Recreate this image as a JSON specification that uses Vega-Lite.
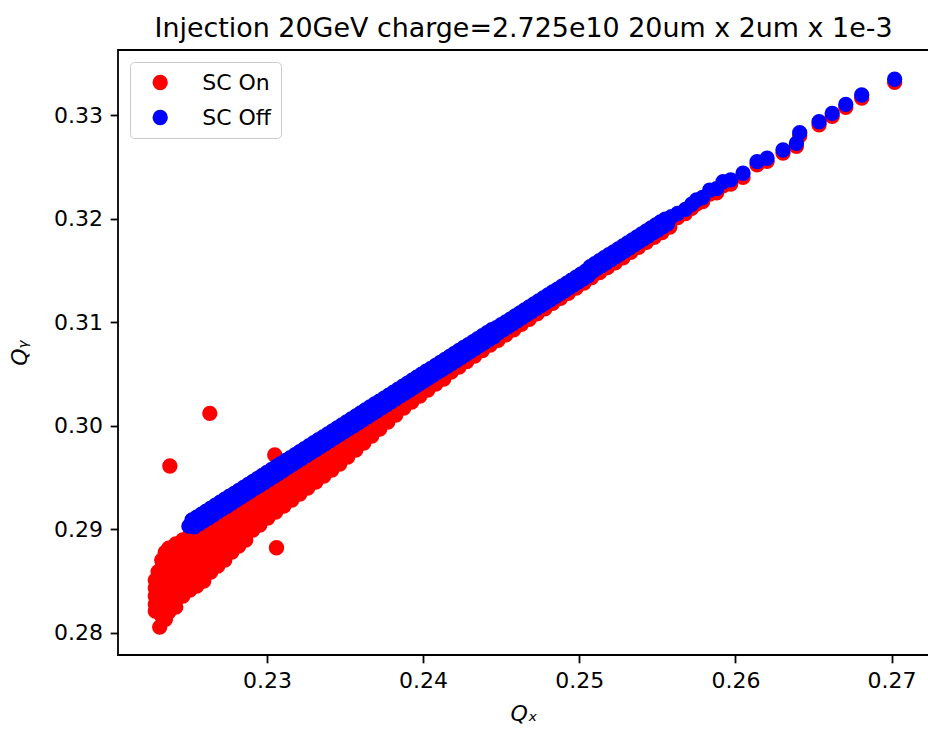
{
"$schema":"https://vega.github.io/schema/vega-lite/v6.json",
"width":811,"height":605,
"autosize":{"type":"none"},
"padding":{"left":118,"top":50,"right":0,"bottom":74},
"background":"white",
"title":{"text":"Injection 20GeV charge=2.725e10 20um x 2um x 1e-3","font":"DejaVu Sans","fontSize":26.9,"fontWeight":"normal","color":"black","offset":13,"baseline":"bottom","anchor":"middle","dy":33},
"config":{
"view":{"stroke":"black","strokeWidth":1.8},
"axis":{"labelFont":"DejaVu Sans","labelFontSize":22,"labelColor":"black","tickColor":"black","tickWidth":1.8,"tickSize":7.8,"labelPadding":7.8,"domain":false,"grid":false,"labelFlush":false,"labelOverlap":false,"titleFont":"DejaVu Sans","titleFontSize":22,"titleFontWeight":"normal","titleFontStyle":"italic","titleColor":"black"},
"axisX":{"titlePadding":12},
"axisY":{"titlePadding":22}
},
"data":{"values":[
{"run":"SC On","qx":0.22634,"qy":0.30120},
{"run":"SC On","qx":0.22378,"qy":0.29611},
{"run":"SC On","qx":0.23050,"qy":0.29717},
{"run":"SC On","qx":0.23061,"qy":0.28821},
{"run":"SC On","qx":0.22313,"qy":0.28055},
{"run":"SC On","qx":0.22303,"qy":0.28590},
{"run":"SC On","qx":0.22348,"qy":0.28775},
{"run":"SC On","qx":0.22350,"qy":0.28130},
{"run":"SC On","qx":0.22285,"qy":0.28509},{"run":"SC On","qx":0.22285,"qy":0.28432},{"run":"SC On","qx":0.22285,"qy":0.28355},{"run":"SC On","qx":0.22285,"qy":0.28277},{"run":"SC On","qx":0.22285,"qy":0.28210},
{"run":"SC On","qx":0.22326,"qy":0.28702},{"run":"SC On","qx":0.22326,"qy":0.28625},{"run":"SC On","qx":0.22326,"qy":0.28548},{"run":"SC On","qx":0.22326,"qy":0.28470},{"run":"SC On","qx":0.22326,"qy":0.28393},{"run":"SC On","qx":0.22326,"qy":0.28316},{"run":"SC On","qx":0.22326,"qy":0.28239},{"run":"SC On","qx":0.22326,"qy":0.28161},
{"run":"SC On","qx":0.22371,"qy":0.28818},{"run":"SC On","qx":0.22371,"qy":0.28741},{"run":"SC On","qx":0.22371,"qy":0.28664},{"run":"SC On","qx":0.22371,"qy":0.28586},{"run":"SC On","qx":0.22371,"qy":0.28509},{"run":"SC On","qx":0.22371,"qy":0.28432},{"run":"SC On","qx":0.22371,"qy":0.28355},{"run":"SC On","qx":0.22371,"qy":0.28277},{"run":"SC On","qx":0.22371,"qy":0.28200},
{"run":"SC On","qx":0.22416,"qy":0.28857},{"run":"SC On","qx":0.22416,"qy":0.28779},{"run":"SC On","qx":0.22416,"qy":0.28702},{"run":"SC On","qx":0.22416,"qy":0.28625},{"run":"SC On","qx":0.22416,"qy":0.28548},{"run":"SC On","qx":0.22416,"qy":0.28470},{"run":"SC On","qx":0.22416,"qy":0.28393},{"run":"SC On","qx":0.22416,"qy":0.28316},{"run":"SC On","qx":0.22416,"qy":0.28248},
{"run":"SC On","qx":0.22461,"qy":0.28896},{"run":"SC On","qx":0.22461,"qy":0.28818},{"run":"SC On","qx":0.22461,"qy":0.28741},{"run":"SC On","qx":0.22461,"qy":0.28664},{"run":"SC On","qx":0.22461,"qy":0.28586},{"run":"SC On","qx":0.22461,"qy":0.28509},{"run":"SC On","qx":0.22461,"qy":0.28432},{"run":"SC On","qx":0.22461,"qy":0.28355},
{"run":"SC On","qx":0.22506,"qy":0.28944},{"run":"SC On","qx":0.22506,"qy":0.28867},{"run":"SC On","qx":0.22506,"qy":0.28789},{"run":"SC On","qx":0.22506,"qy":0.28712},{"run":"SC On","qx":0.22506,"qy":0.28635},{"run":"SC On","qx":0.22506,"qy":0.28557},{"run":"SC On","qx":0.22506,"qy":0.28480},{"run":"SC On","qx":0.22506,"qy":0.28413},
{"run":"SC On","qx":0.22550,"qy":0.28973},{"run":"SC On","qx":0.22550,"qy":0.28896},{"run":"SC On","qx":0.22550,"qy":0.28818},{"run":"SC On","qx":0.22550,"qy":0.28741},{"run":"SC On","qx":0.22550,"qy":0.28664},{"run":"SC On","qx":0.22550,"qy":0.28586},{"run":"SC On","qx":0.22550,"qy":0.28509},{"run":"SC On","qx":0.22550,"qy":0.28451},
{"run":"SC On","qx":0.22595,"qy":0.29012},{"run":"SC On","qx":0.22595,"qy":0.28934},{"run":"SC On","qx":0.22595,"qy":0.28857},{"run":"SC On","qx":0.22595,"qy":0.28779},{"run":"SC On","qx":0.22595,"qy":0.28702},{"run":"SC On","qx":0.22595,"qy":0.28625},{"run":"SC On","qx":0.22595,"qy":0.28548},{"run":"SC On","qx":0.22595,"qy":0.28500},
{"run":"SC On","qx":0.22640,"qy":0.29065},{"run":"SC On","qx":0.22640,"qy":0.28973},{"run":"SC On","qx":0.22640,"qy":0.28896},{"run":"SC On","qx":0.22640,"qy":0.28818},{"run":"SC On","qx":0.22640,"qy":0.28741},{"run":"SC On","qx":0.22640,"qy":0.28664},{"run":"SC On","qx":0.22640,"qy":0.28586},
{"run":"SC On","qx":0.22685,"qy":0.29104},{"run":"SC On","qx":0.22685,"qy":0.29012},{"run":"SC On","qx":0.22685,"qy":0.28934},{"run":"SC On","qx":0.22685,"qy":0.28857},{"run":"SC On","qx":0.22685,"qy":0.28779},{"run":"SC On","qx":0.22685,"qy":0.28702},{"run":"SC On","qx":0.22685,"qy":0.28644},
{"run":"SC On","qx":0.22730,"qy":0.29143},{"run":"SC On","qx":0.22730,"qy":0.29050},{"run":"SC On","qx":0.22730,"qy":0.28973},{"run":"SC On","qx":0.22730,"qy":0.28896},{"run":"SC On","qx":0.22730,"qy":0.28818},{"run":"SC On","qx":0.22730,"qy":0.28760},{"run":"SC On","qx":0.22730,"qy":0.28702},
{"run":"SC On","qx":0.22775,"qy":0.29181},{"run":"SC On","qx":0.22775,"qy":0.29089},{"run":"SC On","qx":0.22775,"qy":0.29012},{"run":"SC On","qx":0.22775,"qy":0.28934},{"run":"SC On","qx":0.22775,"qy":0.28857},{"run":"SC On","qx":0.22775,"qy":0.28779},
{"run":"SC On","qx":0.22819,"qy":0.29220},{"run":"SC On","qx":0.22819,"qy":0.29128},{"run":"SC On","qx":0.22819,"qy":0.29050},{"run":"SC On","qx":0.22819,"qy":0.28973},{"run":"SC On","qx":0.22819,"qy":0.28896},{"run":"SC On","qx":0.22819,"qy":0.28837},
{"run":"SC On","qx":0.22864,"qy":0.29268},{"run":"SC On","qx":0.22864,"qy":0.29176},{"run":"SC On","qx":0.22864,"qy":0.29099},{"run":"SC On","qx":0.22864,"qy":0.29021},{"run":"SC On","qx":0.22864,"qy":0.28954},{"run":"SC On","qx":0.22864,"qy":0.28896},
{"run":"SC On","qx":0.22909,"qy":0.29316},{"run":"SC On","qx":0.22909,"qy":0.29224},{"run":"SC On","qx":0.22909,"qy":0.29147},{"run":"SC On","qx":0.22909,"qy":0.29070},{"run":"SC On","qx":0.22909,"qy":0.28992},
{"run":"SC On","qx":0.22954,"qy":0.29355},{"run":"SC On","qx":0.22954,"qy":0.29263},{"run":"SC On","qx":0.22954,"qy":0.29186},{"run":"SC On","qx":0.22954,"qy":0.29108},{"run":"SC On","qx":0.22954,"qy":0.29041},
{"run":"SC On","qx":0.23005,"qy":0.29399},{"run":"SC On","qx":0.23005,"qy":0.29282},{"run":"SC On","qx":0.23005,"qy":0.29195},{"run":"SC On","qx":0.23005,"qy":0.29108},
{"run":"SC On","qx":0.23056,"qy":0.29447},{"run":"SC On","qx":0.23056,"qy":0.29340},{"run":"SC On","qx":0.23056,"qy":0.29253},{"run":"SC On","qx":0.23056,"qy":0.29166},
{"run":"SC On","qx":0.23108,"qy":0.29495},{"run":"SC On","qx":0.23108,"qy":0.29388},{"run":"SC On","qx":0.23108,"qy":0.29301},{"run":"SC On","qx":0.23108,"qy":0.29224},
{"run":"SC On","qx":0.23159,"qy":0.29544},{"run":"SC On","qx":0.23159,"qy":0.29437},{"run":"SC On","qx":0.23159,"qy":0.29359},{"run":"SC On","qx":0.23159,"qy":0.29282},
{"run":"SC On","qx":0.23210,"qy":0.29592},{"run":"SC On","qx":0.23210,"qy":0.29495},{"run":"SC On","qx":0.23210,"qy":0.29417},{"run":"SC On","qx":0.23210,"qy":0.29340},
{"run":"SC On","qx":0.23261,"qy":0.29640},{"run":"SC On","qx":0.23261,"qy":0.29543},{"run":"SC On","qx":0.23261,"qy":0.29466},{"run":"SC On","qx":0.23261,"qy":0.29398},
{"run":"SC On","qx":0.23313,"qy":0.29689},{"run":"SC On","qx":0.23313,"qy":0.29591},{"run":"SC On","qx":0.23313,"qy":0.29514},{"run":"SC On","qx":0.23313,"qy":0.29456},
{"run":"SC On","qx":0.23364,"qy":0.29737},{"run":"SC On","qx":0.23364,"qy":0.29649},{"run":"SC On","qx":0.23364,"qy":0.29572},{"run":"SC On","qx":0.23364,"qy":0.29514},
{"run":"SC On","qx":0.23415,"qy":0.29785},{"run":"SC On","qx":0.23415,"qy":0.29698},{"run":"SC On","qx":0.23415,"qy":0.29630},{"run":"SC On","qx":0.23415,"qy":0.29572},
{"run":"SC On","qx":0.23466,"qy":0.29834},{"run":"SC On","qx":0.23466,"qy":0.29746},{"run":"SC On","qx":0.23466,"qy":0.29688},{"run":"SC On","qx":0.23466,"qy":0.29630},
{"run":"SC On","qx":0.23517,"qy":0.29882},{"run":"SC On","qx":0.23517,"qy":0.29785},{"run":"SC On","qx":0.23517,"qy":0.29698},
{"run":"SC On","qx":0.23569,"qy":0.29930},{"run":"SC On","qx":0.23569,"qy":0.29833},{"run":"SC On","qx":0.23569,"qy":0.29765},
{"run":"SC On","qx":0.23620,"qy":0.29979},{"run":"SC On","qx":0.23620,"qy":0.29891},{"run":"SC On","qx":0.23620,"qy":0.29833},
{"run":"SC On","qx":0.23671,"qy":0.30037},{"run":"SC On","qx":0.23671,"qy":0.29959},{"run":"SC On","qx":0.23671,"qy":0.29901},
{"run":"SC On","qx":0.23722,"qy":0.30085},{"run":"SC On","qx":0.23722,"qy":0.30017},{"run":"SC On","qx":0.23722,"qy":0.29968},
{"run":"SC On","qx":0.23774,"qy":0.30133},{"run":"SC On","qx":0.23774,"qy":0.30074},{"run":"SC On","qx":0.23774,"qy":0.30036},
{"run":"SC On","qx":0.23825,"qy":0.30181},{"run":"SC On","qx":0.23825,"qy":0.30103},
{"run":"SC On","qx":0.23876,"qy":0.30229},{"run":"SC On","qx":0.23876,"qy":0.30171},
{"run":"SC On","qx":0.23927,"qy":0.30278},{"run":"SC On","qx":0.23927,"qy":0.30229},
{"run":"SC On","qx":0.23979,"qy":0.30326},{"run":"SC On","qx":0.23979,"qy":0.30287},
{"run":"SC On","qx":0.24030,"qy":0.30345},
{"run":"SC On","qx":0.24081,"qy":0.30403},
{"run":"SC On","qx":0.24132,"qy":0.30451},
{"run":"SC On","qx":0.2418,"qy":0.30519},{"run":"SC On","qx":0.2423,"qy":0.30567},{"run":"SC On","qx":0.2428,"qy":0.30620},{"run":"SC On","qx":0.2433,"qy":0.30673},{"run":"SC On","qx":0.2438,"qy":0.30726},{"run":"SC On","qx":0.2443,"qy":0.30779},{"run":"SC On","qx":0.2448,"qy":0.30826},{"run":"SC On","qx":0.2453,"qy":0.30879},{"run":"SC On","qx":0.2458,"qy":0.30927},{"run":"SC On","qx":0.2463,"qy":0.30980},{"run":"SC On","qx":0.2468,"qy":0.31028},{"run":"SC On","qx":0.2473,"qy":0.31081},{"run":"SC On","qx":0.2478,"qy":0.31129},{"run":"SC On","qx":0.2483,"qy":0.31182},{"run":"SC On","qx":0.2488,"qy":0.31230},{"run":"SC On","qx":0.2493,"qy":0.31278},{"run":"SC On","qx":0.2498,"qy":0.31330},{"run":"SC On","qx":0.2503,"qy":0.31378},{"run":"SC On","qx":0.2508,"qy":0.31431},{"run":"SC On","qx":0.2513,"qy":0.31479},{"run":"SC On","qx":0.2518,"qy":0.31527},{"run":"SC On","qx":0.2523,"qy":0.31575},{"run":"SC On","qx":0.2528,"qy":0.31623},{"run":"SC On","qx":0.2533,"qy":0.31676},{"run":"SC On","qx":0.2538,"qy":0.31724},{"run":"SC On","qx":0.2543,"qy":0.31772},{"run":"SC On","qx":0.2548,"qy":0.31819},{"run":"SC On","qx":0.2553,"qy":0.31867},{"run":"SC On","qx":0.2558,"qy":0.31920},
{"run":"SC On","qx":0.2563,"qy":0.32010},{"run":"SC On","qx":0.2568,"qy":0.32050},{"run":"SC On","qx":0.2572,"qy":0.32100},{"run":"SC On","qx":0.25751,"qy":0.32141},{"run":"SC On","qx":0.2579,"qy":0.32165},{"run":"SC On","qx":0.25836,"qy":0.32237},{"run":"SC On","qx":0.2588,"qy":0.32250},{"run":"SC On","qx":0.25921,"qy":0.32317},{"run":"SC On","qx":0.2597,"qy":0.32335},{"run":"SC On","qx":0.26049,"qy":0.32399},
{"run":"SC On","qx":0.26139,"qy":0.32521},{"run":"SC On","qx":0.26203,"qy":0.32554},{"run":"SC On","qx":0.26305,"qy":0.32634},{"run":"SC On","qx":0.26391,"qy":0.32699},{"run":"SC On","qx":0.26412,"qy":0.32801},{"run":"SC On","qx":0.26536,"qy":0.32907},{"run":"SC On","qx":0.26620,"qy":0.32988},{"run":"SC On","qx":0.26707,"qy":0.33075},{"run":"SC On","qx":0.26809,"qy":0.33165},{"run":"SC On","qx":0.27020,"qy":0.33317},
{"run":"SC Off","qx":0.2250,"qy":0.29030},
{"run":"SC Off","qx":0.2252,"qy":0.29089},{"run":"SC Off","qx":0.22535,"qy":0.29023},
{"run":"SC Off","qx":0.2255,"qy":0.29117},{"run":"SC Off","qx":0.22565,"qy":0.29052},
{"run":"SC Off","qx":0.2258,"qy":0.29146},{"run":"SC Off","qx":0.22595,"qy":0.29081},
{"run":"SC Off","qx":0.2261,"qy":0.29175},{"run":"SC Off","qx":0.22625,"qy":0.29109},
{"run":"SC Off","qx":0.2264,"qy":0.29204},{"run":"SC Off","qx":0.22655,"qy":0.29138},
{"run":"SC Off","qx":0.2267,"qy":0.29232},{"run":"SC Off","qx":0.22685,"qy":0.29167},
{"run":"SC Off","qx":0.2270,"qy":0.29261},{"run":"SC Off","qx":0.22715,"qy":0.29196},
{"run":"SC Off","qx":0.2273,"qy":0.29290},{"run":"SC Off","qx":0.22745,"qy":0.29224},
{"run":"SC Off","qx":0.2276,"qy":0.29319},{"run":"SC Off","qx":0.22775,"qy":0.29253},
{"run":"SC Off","qx":0.2279,"qy":0.29347},{"run":"SC Off","qx":0.22805,"qy":0.29282},
{"run":"SC Off","qx":0.2282,"qy":0.29376},{"run":"SC Off","qx":0.22835,"qy":0.29311},
{"run":"SC Off","qx":0.2285,"qy":0.29405},{"run":"SC Off","qx":0.22865,"qy":0.29339},
{"run":"SC Off","qx":0.2288,"qy":0.29434},{"run":"SC Off","qx":0.22895,"qy":0.29368},
{"run":"SC Off","qx":0.2291,"qy":0.29462},{"run":"SC Off","qx":0.22925,"qy":0.29397},
{"run":"SC Off","qx":0.2294,"qy":0.29491},{"run":"SC Off","qx":0.22955,"qy":0.29425},
{"run":"SC Off","qx":0.2297,"qy":0.29520},{"run":"SC Off","qx":0.22985,"qy":0.29454},
{"run":"SC Off","qx":0.2300,"qy":0.29549},{"run":"SC Off","qx":0.23015,"qy":0.29483},
{"run":"SC Off","qx":0.2303,"qy":0.29577},{"run":"SC Off","qx":0.23045,"qy":0.29512},
{"run":"SC Off","qx":0.2306,"qy":0.29606},{"run":"SC Off","qx":0.23075,"qy":0.29540},
{"run":"SC Off","qx":0.2309,"qy":0.29635},{"run":"SC Off","qx":0.23105,"qy":0.29569},
{"run":"SC Off","qx":0.2312,"qy":0.29664},{"run":"SC Off","qx":0.23135,"qy":0.29598},
{"run":"SC Off","qx":0.2315,"qy":0.29692},{"run":"SC Off","qx":0.23165,"qy":0.29627},
{"run":"SC Off","qx":0.2318,"qy":0.29721},{"run":"SC Off","qx":0.23195,"qy":0.29655},
{"run":"SC Off","qx":0.2321,"qy":0.29750},{"run":"SC Off","qx":0.23225,"qy":0.29684},
{"run":"SC Off","qx":0.2324,"qy":0.29778},{"run":"SC Off","qx":0.23255,"qy":0.29713},
{"run":"SC Off","qx":0.2327,"qy":0.29807},{"run":"SC Off","qx":0.23285,"qy":0.29742},
{"run":"SC Off","qx":0.2330,"qy":0.29836},{"run":"SC Off","qx":0.23315,"qy":0.29770},
{"run":"SC Off","qx":0.2333,"qy":0.29865},{"run":"SC Off","qx":0.23345,"qy":0.29799},
{"run":"SC Off","qx":0.2336,"qy":0.29893},{"run":"SC Off","qx":0.23375,"qy":0.29828},
{"run":"SC Off","qx":0.2339,"qy":0.29922},{"run":"SC Off","qx":0.23405,"qy":0.29857},
{"run":"SC Off","qx":0.2342,"qy":0.29951},{"run":"SC Off","qx":0.23435,"qy":0.29885},
{"run":"SC Off","qx":0.2345,"qy":0.29980},{"run":"SC Off","qx":0.23465,"qy":0.29914},
{"run":"SC Off","qx":0.2348,"qy":0.30008},{"run":"SC Off","qx":0.23495,"qy":0.29943},
{"run":"SC Off","qx":0.2351,"qy":0.30037},{"run":"SC Off","qx":0.23525,"qy":0.29972},
{"run":"SC Off","qx":0.2354,"qy":0.30066},{"run":"SC Off","qx":0.23555,"qy":0.30000},
{"run":"SC Off","qx":0.2357,"qy":0.30095},{"run":"SC Off","qx":0.23585,"qy":0.30029},
{"run":"SC Off","qx":0.2360,"qy":0.30123},{"run":"SC Off","qx":0.23615,"qy":0.30058},
{"run":"SC Off","qx":0.2363,"qy":0.30152},{"run":"SC Off","qx":0.23645,"qy":0.30086},
{"run":"SC Off","qx":0.2366,"qy":0.30181},{"run":"SC Off","qx":0.23675,"qy":0.30115},
{"run":"SC Off","qx":0.2369,"qy":0.30210},{"run":"SC Off","qx":0.23705,"qy":0.30144},
{"run":"SC Off","qx":0.2372,"qy":0.30238},{"run":"SC Off","qx":0.23735,"qy":0.30173},
{"run":"SC Off","qx":0.2375,"qy":0.30267},{"run":"SC Off","qx":0.23765,"qy":0.30201},
{"run":"SC Off","qx":0.2378,"qy":0.30296},{"run":"SC Off","qx":0.23795,"qy":0.30230},
{"run":"SC Off","qx":0.2381,"qy":0.30325},{"run":"SC Off","qx":0.23825,"qy":0.30259},
{"run":"SC Off","qx":0.2384,"qy":0.30353},{"run":"SC Off","qx":0.23855,"qy":0.30288},
{"run":"SC Off","qx":0.2387,"qy":0.30382},{"run":"SC Off","qx":0.23885,"qy":0.30316},
{"run":"SC Off","qx":0.2390,"qy":0.30411},{"run":"SC Off","qx":0.23915,"qy":0.30345},
{"run":"SC Off","qx":0.2393,"qy":0.30440},{"run":"SC Off","qx":0.23945,"qy":0.30374},
{"run":"SC Off","qx":0.2396,"qy":0.30468},{"run":"SC Off","qx":0.23975,"qy":0.30403},
{"run":"SC Off","qx":0.2399,"qy":0.30497},{"run":"SC Off","qx":0.24005,"qy":0.30431},
{"run":"SC Off","qx":0.2402,"qy":0.30526},{"run":"SC Off","qx":0.24035,"qy":0.30460},
{"run":"SC Off","qx":0.2405,"qy":0.30554},{"run":"SC Off","qx":0.24065,"qy":0.30489},
{"run":"SC Off","qx":0.2408,"qy":0.30583},{"run":"SC Off","qx":0.24095,"qy":0.30518},
{"run":"SC Off","qx":0.2411,"qy":0.30612},{"run":"SC Off","qx":0.24125,"qy":0.30546},
{"run":"SC Off","qx":0.2414,"qy":0.30641},{"run":"SC Off","qx":0.24155,"qy":0.30575},
{"run":"SC Off","qx":0.2417,"qy":0.30669},{"run":"SC Off","qx":0.24185,"qy":0.30604},
{"run":"SC Off","qx":0.2420,"qy":0.30698},{"run":"SC Off","qx":0.24215,"qy":0.30633},
{"run":"SC Off","qx":0.2423,"qy":0.30727},{"run":"SC Off","qx":0.24245,"qy":0.30661},
{"run":"SC Off","qx":0.2426,"qy":0.30756},{"run":"SC Off","qx":0.24275,"qy":0.30690},
{"run":"SC Off","qx":0.2429,"qy":0.30784},{"run":"SC Off","qx":0.24305,"qy":0.30719},
{"run":"SC Off","qx":0.2432,"qy":0.30813},{"run":"SC Off","qx":0.24335,"qy":0.30748},
{"run":"SC Off","qx":0.2435,"qy":0.30842},{"run":"SC Off","qx":0.24365,"qy":0.30776},
{"run":"SC Off","qx":0.2438,"qy":0.30871},{"run":"SC Off","qx":0.24395,"qy":0.30805},
{"run":"SC Off","qx":0.2441,"qy":0.30899},{"run":"SC Off","qx":0.24425,"qy":0.30834},
{"run":"SC Off","qx":0.2444,"qy":0.30928},{"run":"SC Off","qx":0.24455,"qy":0.30862},
{"run":"SC Off","qx":0.2447,"qy":0.30947},{"run":"SC Off","qx":0.24485,"qy":0.30901},
{"run":"SC Off","qx":0.2450,"qy":0.30976},{"run":"SC Off","qx":0.24515,"qy":0.30930},
{"run":"SC Off","qx":0.2453,"qy":0.31004},{"run":"SC Off","qx":0.24545,"qy":0.30959},
{"run":"SC Off","qx":0.2456,"qy":0.31033},{"run":"SC Off","qx":0.24575,"qy":0.30987},
{"run":"SC Off","qx":0.2459,"qy":0.31062},{"run":"SC Off","qx":0.24605,"qy":0.31016},
{"run":"SC Off","qx":0.2462,"qy":0.31091},{"run":"SC Off","qx":0.24635,"qy":0.31045},
{"run":"SC Off","qx":0.2465,"qy":0.31119},{"run":"SC Off","qx":0.24665,"qy":0.31074},
{"run":"SC Off","qx":0.2468,"qy":0.31148},{"run":"SC Off","qx":0.24695,"qy":0.31102},
{"run":"SC Off","qx":0.2471,"qy":0.31177},{"run":"SC Off","qx":0.24725,"qy":0.31131},
{"run":"SC Off","qx":0.2474,"qy":0.31206},{"run":"SC Off","qx":0.24755,"qy":0.31160},
{"run":"SC Off","qx":0.2477,"qy":0.31234},{"run":"SC Off","qx":0.24785,"qy":0.31189},
{"run":"SC Off","qx":0.2480,"qy":0.31263},{"run":"SC Off","qx":0.24815,"qy":0.31217},
{"run":"SC Off","qx":0.2483,"qy":0.31292},{"run":"SC Off","qx":0.24845,"qy":0.31246},
{"run":"SC Off","qx":0.2486,"qy":0.31320},{"run":"SC Off","qx":0.24875,"qy":0.31275},
{"run":"SC Off","qx":0.2489,"qy":0.31349},{"run":"SC Off","qx":0.24905,"qy":0.31304},
{"run":"SC Off","qx":0.2492,"qy":0.31378},{"run":"SC Off","qx":0.24935,"qy":0.31332},
{"run":"SC Off","qx":0.2495,"qy":0.31407},{"run":"SC Off","qx":0.24965,"qy":0.31361},
{"run":"SC Off","qx":0.2498,"qy":0.31435},{"run":"SC Off","qx":0.24995,"qy":0.31390},
{"run":"SC Off","qx":0.2501,"qy":0.31464},{"run":"SC Off","qx":0.25025,"qy":0.31419},
{"run":"SC Off","qx":0.2504,"qy":0.31493},{"run":"SC Off","qx":0.25055,"qy":0.31447},
{"run":"SC Off","qx":0.2507,"qy":0.31537},{"run":"SC Off","qx":0.25085,"qy":0.31491},
{"run":"SC Off","qx":0.2510,"qy":0.31565},{"run":"SC Off","qx":0.25115,"qy":0.31520},
{"run":"SC Off","qx":0.2513,"qy":0.31594},{"run":"SC Off","qx":0.25145,"qy":0.31548},
{"run":"SC Off","qx":0.2516,"qy":0.31623},{"run":"SC Off","qx":0.25175,"qy":0.31577},
{"run":"SC Off","qx":0.2519,"qy":0.31652},{"run":"SC Off","qx":0.25205,"qy":0.31606},
{"run":"SC Off","qx":0.2522,"qy":0.31680},{"run":"SC Off","qx":0.25235,"qy":0.31635},
{"run":"SC Off","qx":0.2525,"qy":0.31709},{"run":"SC Off","qx":0.25265,"qy":0.31663},
{"run":"SC Off","qx":0.2528,"qy":0.31738},{"run":"SC Off","qx":0.25295,"qy":0.31692},
{"run":"SC Off","qx":0.2531,"qy":0.31767},{"run":"SC Off","qx":0.25325,"qy":0.31721},
{"run":"SC Off","qx":0.2534,"qy":0.31795},{"run":"SC Off","qx":0.25355,"qy":0.31750},
{"run":"SC Off","qx":0.2537,"qy":0.31824},{"run":"SC Off","qx":0.25385,"qy":0.31778},
{"run":"SC Off","qx":0.2540,"qy":0.31853},{"run":"SC Off","qx":0.25415,"qy":0.31807},
{"run":"SC Off","qx":0.2543,"qy":0.31882},{"run":"SC Off","qx":0.25445,"qy":0.31836},
{"run":"SC Off","qx":0.2546,"qy":0.31910},{"run":"SC Off","qx":0.25475,"qy":0.31865},
{"run":"SC Off","qx":0.2549,"qy":0.31939},{"run":"SC Off","qx":0.25505,"qy":0.31893},
{"run":"SC Off","qx":0.2552,"qy":0.31968},{"run":"SC Off","qx":0.25535,"qy":0.31922},
{"run":"SC Off","qx":0.2555,"qy":0.31996},{"run":"SC Off","qx":0.25565,"qy":0.31951},
{"run":"SC Off","qx":0.2559,"qy":0.32020},
{"run":"SC Off","qx":0.2563,"qy":0.32050},{"run":"SC Off","qx":0.2568,"qy":0.32090},{"run":"SC Off","qx":0.2572,"qy":0.32140},{"run":"SC Off","qx":0.25751,"qy":0.32181},{"run":"SC Off","qx":0.2579,"qy":0.32205},{"run":"SC Off","qx":0.25836,"qy":0.32277},{"run":"SC Off","qx":0.2588,"qy":0.32290},{"run":"SC Off","qx":0.25921,"qy":0.32357},{"run":"SC Off","qx":0.2597,"qy":0.32375},{"run":"SC Off","qx":0.26049,"qy":0.32439},
{"run":"SC Off","qx":0.26139,"qy":0.32551},{"run":"SC Off","qx":0.26203,"qy":0.32584},{"run":"SC Off","qx":0.26305,"qy":0.32664},{"run":"SC Off","qx":0.26391,"qy":0.32729},{"run":"SC Off","qx":0.26412,"qy":0.32831},{"run":"SC Off","qx":0.26536,"qy":0.32937},{"run":"SC Off","qx":0.26620,"qy":0.33018},{"run":"SC Off","qx":0.26707,"qy":0.33105},{"run":"SC Off","qx":0.26809,"qy":0.33195},{"run":"SC Off","qx":0.27020,"qy":0.33347}
]},
"mark":{"type":"circle","size":235,"opacity":1},
"encoding":{
"x":{"field":"qx","type":"quantitative","scale":{"domain":[0.22046,0.2724],"nice":false,"zero":false},"axis":{"title":"Qₓ","values":[0.23,0.24,0.25,0.26,0.27],"format":".2f"}},
"y":{"field":"qy","type":"quantitative","scale":{"domain":[0.27785,0.3363],"nice":false,"zero":false},"axis":{"title":"Qᵧ","values":[0.28,0.29,0.30,0.31,0.32,0.33],"format":".2f"}},
"color":{"field":"run","type":"nominal","scale":{"domain":["SC On","SC Off"],"range":["#ff0000","#0000ff"]},"legend":{"title":null,"orient":"top-left","offset":12,"padding":9.5,"fillColor":"white","strokeColor":"#cccccc","cornerRadius":4,"labelFont":"DejaVu Sans","labelFontSize":22,"labelColor":"black","symbolSize":235,"symbolType":"circle","symbolOffset":9.7,"labelOffset":31,"rowPadding":13,"symbolStrokeWidth":0,"symbolOpacity":1}}
}
}
